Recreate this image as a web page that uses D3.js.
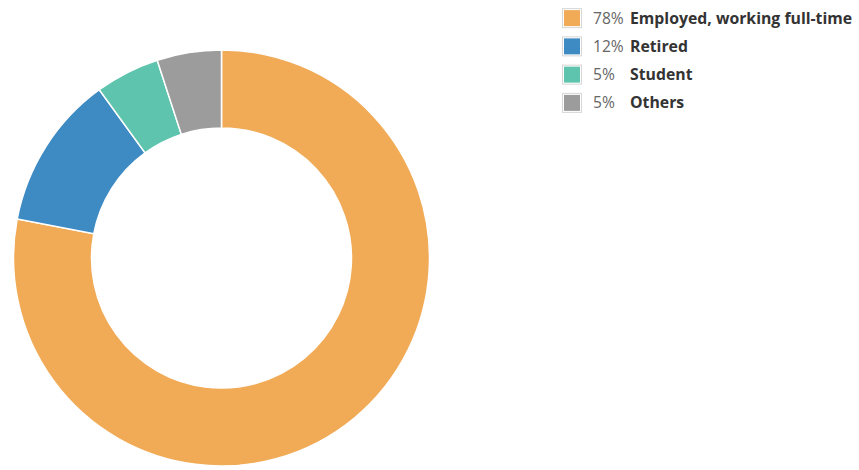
<!DOCTYPE html>
<html><head><meta charset="utf-8">
<script src="https://cdn.jsdelivr.net/npm/d3@7"></script>
<style>body{margin:0;background:#fff;} svg{display:block;}</style>
</head><body>
<svg id="c" width="859" height="470"></svg>
<script>
const categories = ["Employed, working full-time", "Retired", "Student", "Others"];
const values = [78, 12, 5, 5];
const pctLabels = ["78%", "12%", "5%", "5%"];
const colors = ["#F1AA56", "#3E8AC3", "#5EC4AD", "#9C9C9C"];

const svg = d3.select("#c");
const cx = 221.5, cy = 258, R = 208, r = 130;
const pie = d3.pie().sort(null).value(d => d)(values);
const arc = d3.arc().innerRadius(r).outerRadius(R);
const color = d3.scaleOrdinal().domain(categories).range(colors);

svg.append("g").attr("transform", `translate(${cx},${cy})`)
  .selectAll("path").data(pie).join("path")
  .attr("d", arc)
  .attr("fill", (d, i) => color(categories[i]))
  .attr("stroke", "#fff").attr("stroke-width", 1.5);

const y = d3.scaleBand().domain(categories).range([4, 117]).paddingInner(0);
const lg = svg.append("g");
const row = lg.selectAll("g").data(categories).join("g")
  .attr("transform", d => `translate(0,${y(d) + y.bandwidth()/2})`);
row.append("rect").attr("x", 562.5).attr("y", -9.5).attr("width", 19).attr("height", 19)
  .attr("fill", "#fff").attr("stroke", "#d6d6d6").attr("stroke-width", 1);
row.append("rect").attr("x", 564).attr("y", -8).attr("width", 16).attr("height", 16)
  .attr("fill", d => color(d));
row.append("text").attr("x", 593).attr("y", 5.5)
  .attr("font-family", "Open Sans").attr("font-size", 15.6).attr("fill", "#666")
  .text((d, i) => pctLabels[i]);
row.append("text").attr("x", 630).attr("y", 5.5)
  .attr("font-family", "Open Sans").attr("font-size", 15.8).attr("font-weight", "bold").attr("fill", "#333")
  .text(d => d);
</script>
</body></html>
